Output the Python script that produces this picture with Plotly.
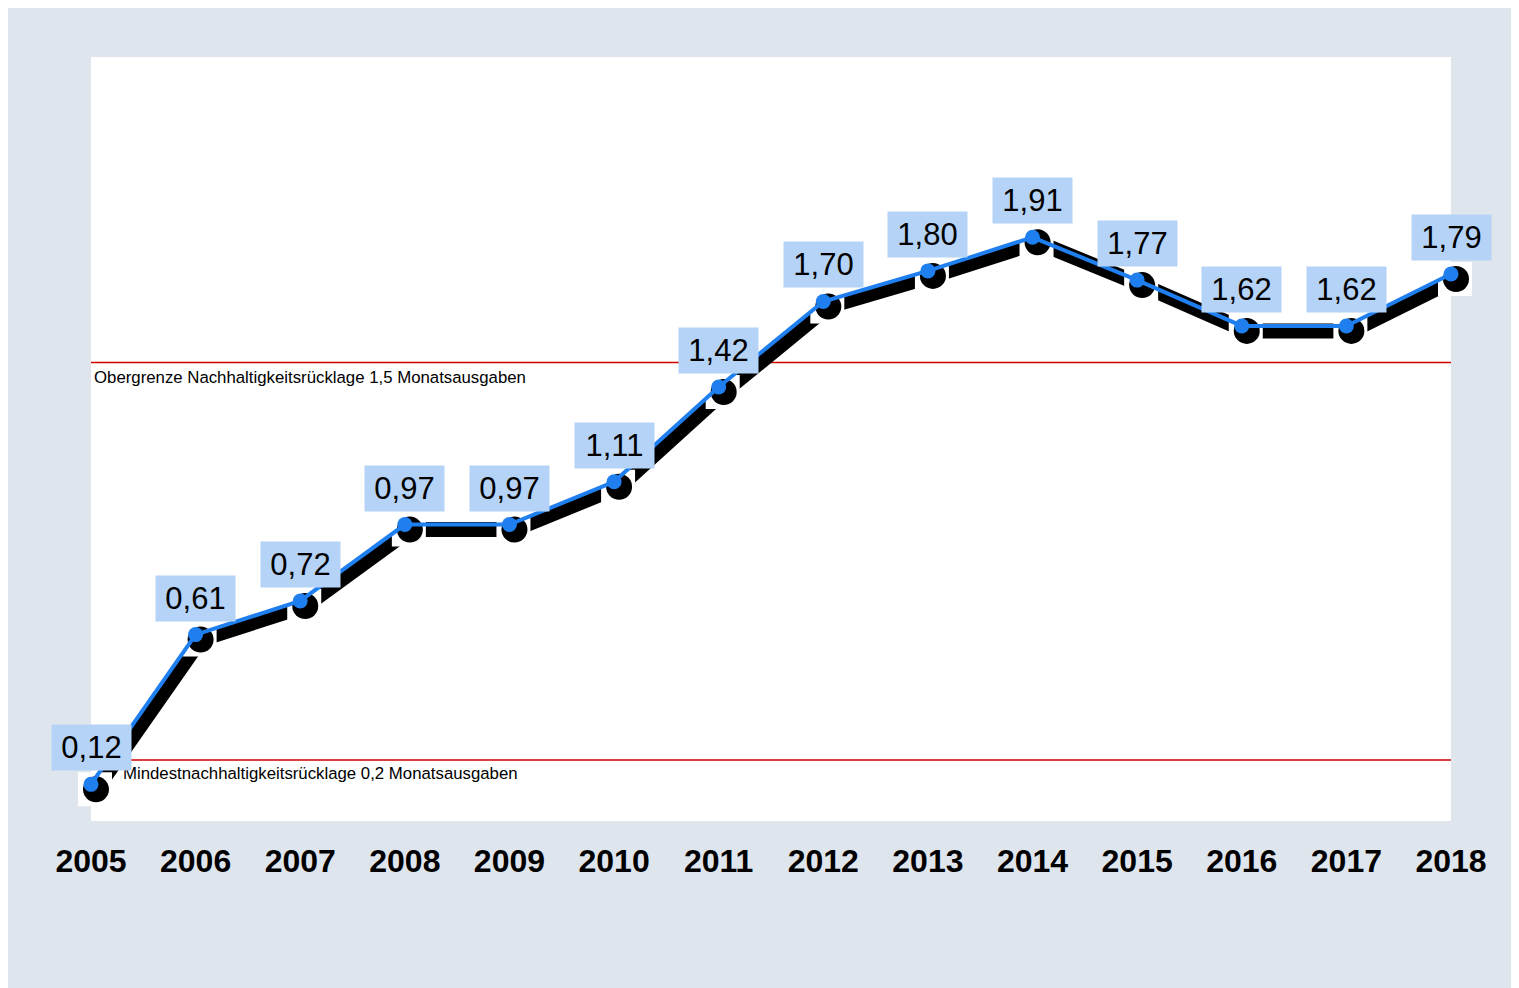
import plotly.graph_objects as go

# Nachhaltigkeitsrücklage in Monatsausgaben
jahre = [2005, 2006, 2007, 2008, 2009, 2010, 2011, 2012, 2013, 2014, 2015, 2016, 2017, 2018]
werte = [0.12, 0.61, 0.72, 0.97, 0.97, 1.11, 1.42, 1.70, 1.80, 1.91, 1.77, 1.62, 1.62, 1.79]
obergrenze = 1.5
untergrenze = 0.2
text_ober = "Obergrenze Nachhaltigkeitsrücklage 1,5 Monatsausgaben"
text_unter = "Mindestnachhaltigkeitsrücklage 0,2 Monatsausgaben"

W, H = 1511, 980
ml, mr, mt, mb = 83, 68, 49, 167
extra = 40  # Pixel rechts, damit Schatten am Rand nicht wegfallen
y_max = 2.5
font = "Liberation Sans, Arial, sans-serif"
grau = "#dfe5ec"

# Schatten-Versatz in Pixeln -> Datenkoordinaten
px_x = (jahre[-1] - jahre[0]) / (W - ml - mr)
px_y = y_max / (H - mt - mb)
x_end = jahre[-1] + extra * px_x
sx = [j + 5 * px_x for j in jahre]
sy = [w - 5 * px_y for w in werte]
bx = [j + 4 * px_x for j in jahre]
by = [w - 5 * px_y for w in werte]

fig = go.Figure()

# weiße Zeichenfläche
fig.add_shape(type="rect", xref="x", yref="y", x0=jahre[0], x1=jahre[-1], y0=0, y1=y_max,
              fillcolor="white", line_width=0, layer="below")

# Schattenlinie
fig.add_trace(go.Scatter(x=sx, y=sy, mode="lines", line=dict(color="black", width=15),
                         cliponaxis=False, hoverinfo="skip"))
# weiße Kästchen um die Punkte
fig.add_trace(go.Scatter(x=bx, y=by, mode="markers",
                         marker=dict(symbol="square", size=34, color="white"),
                         cliponaxis=False, hoverinfo="skip"))
# Schattenpunkte
fig.add_trace(go.Scatter(x=sx, y=sy, mode="markers",
                         marker=dict(size=26, color="black"),
                         cliponaxis=False, hoverinfo="skip"))
# Hauptlinie
fig.add_trace(go.Scatter(x=jahre, y=werte, mode="lines+markers",
                         line=dict(color="#1f7fee", width=4),
                         marker=dict(size=15, color="#1f7fee"),
                         cliponaxis=False))

# Grenzlinien
for g in [obergrenze, untergrenze]:
    fig.add_shape(type="line", xref="x", x0=jahre[0], x1=jahre[-1], yref="y", y0=g, y1=g,
                  line=dict(color="#cc0000", width=1.5), layer="below")

fig.add_annotation(x=jahre[0], y=obergrenze, text=text_ober,
                   showarrow=False, xanchor="left", yanchor="top", xshift=1, yshift=-3,
                   font=dict(family=font, size=16.8, color="black"))
fig.add_annotation(x=jahre[0], y=untergrenze, text=text_unter,
                   showarrow=False, xanchor="left", yanchor="top", xshift=30, yshift=-2,
                   font=dict(family=font, size=16.8, color="black"))

# Wertebeschriftungen
for j, w in zip(jahre, werte):
    fig.add_annotation(x=j, y=w, text=f"{w:.2f}".replace(".", ","), showarrow=False,
                       xanchor="center", yanchor="bottom", yshift=13,
                       bgcolor="#b4d3f7", borderpad=0, width=79, height=45,
                       font=dict(family=font, size=31, color="black"))

fig.update_layout(
    width=W, height=H,
    margin=dict(l=ml, r=mr - extra, t=mt, b=mb),
    paper_bgcolor=grau,
    plot_bgcolor=grau,
    showlegend=False,
    xaxis=dict(range=[jahre[0], x_end], tickvals=jahre, ticktext=[str(j) for j in jahre],
               showgrid=False, zeroline=False, showline=False, ticks="",
               ticklabelstandoff=18,
               tickfont=dict(family=font, size=32, color="black", weight="bold")),
    yaxis=dict(range=[0, y_max], showgrid=False, zeroline=False, showline=False,
               showticklabels=False, ticks=""),
)

fig.write_html("out.html")
